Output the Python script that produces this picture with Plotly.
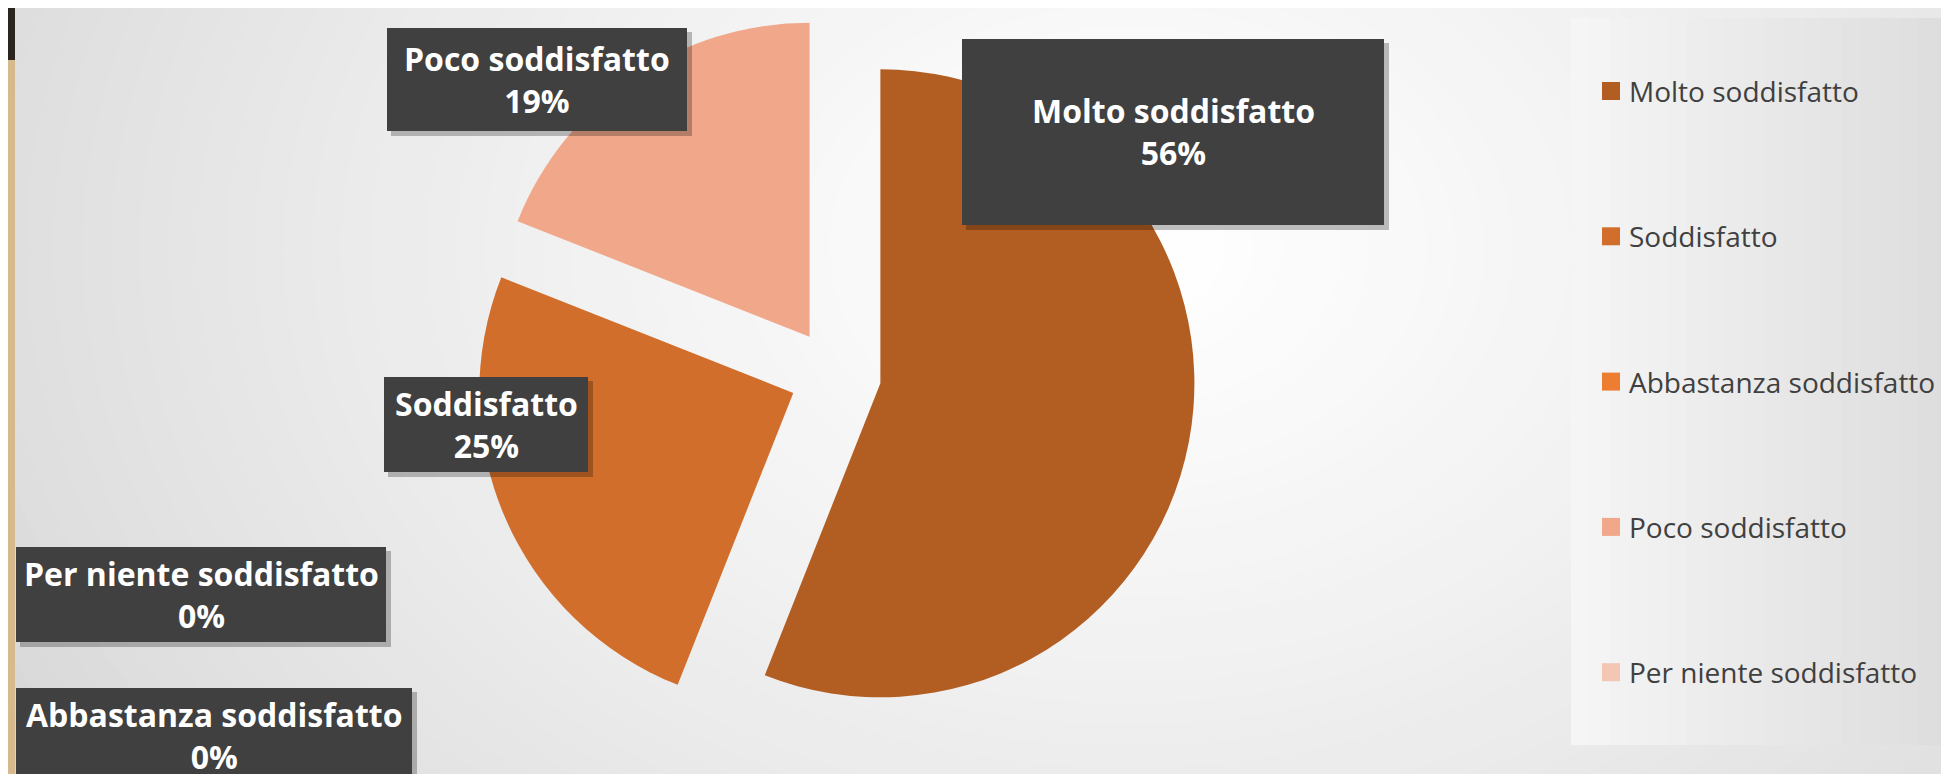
import plotly.graph_objects as go

# %% Data

labels = ["Molto soddisfatto", "Soddisfatto", "Abbastanza soddisfatto",
          "Poco soddisfatto", "Per niente soddisfatto"]
values = [56, 25, 0, 19, 0]
colors = ["#B25D22", "#D26E2B", "#ED7D31", "#F0A78A", "#F4C6B4"]

# %% Layout helpers

W, H = 1949, 774


def fx(x):
    return x / W


def fy(y):
    return 1 - y / H


# label boxes were dragged by hand in the original: left, top, right, bottom (px)
label_boxes = {
    "Molto soddisfatto": (954, 31, 1376, 217),
    "Soddisfatto": (376, 369, 580, 464),
    "Abbastanza soddisfatto": (8, 680, 404, 775),
    "Poco soddisfatto": (379, 20, 679, 123),
    "Per niente soddisfatto": (8, 539, 378, 634),
}

shapes = []
annotations = []

# background: soft radial gradient, grey at the edges, white towards the top right
n_steps = 48
cx, cy = 1120, 240
for k in range(n_steps):
    t = k / (n_steps - 1)
    rx = 1350 * (1 - t) + 40
    ry = 1000 * (1 - t) + 30
    g = int(round(208 + (255 - 208) * t ** 0.7))
    shapes.append(dict(type="circle", xref="paper", yref="paper", layer="below",
                       x0=fx(cx - rx), x1=fx(cx + rx), y0=fy(cy + ry), y1=fy(cy - ry),
                       fillcolor=f"rgb({g},{g},{g})", line=dict(width=0)))

# legend panel
n_band = 20
for k in range(n_band):
    x0 = 1563 + k * (W - 1563) / n_band
    x1 = 1563 + (k + 1) * (W - 1563) / n_band
    g = int(round(245 - 24 * k / (n_band - 1)))
    shapes.append(dict(type="rect", xref="paper", yref="paper", layer="below",
                       x0=fx(x0), x1=fx(x1) + 0.0005, y0=fy(737), y1=fy(10),
                       fillcolor=f"rgb({g},{g},{g})", line=dict(width=0)))

# thin photo strip on the left edge
shapes.append(dict(type="rect", xref="paper", yref="paper", layer="below",
                   x0=0, x1=fx(7), y0=0, y1=1, fillcolor="#D6B98C", line=dict(width=0)))
shapes.append(dict(type="rect", xref="paper", yref="paper", layer="below",
                   x0=0, x1=fx(7), y0=fy(52), y1=1, fillcolor="#2B2520", line=dict(width=0)))

# %% Data label boxes

for lab, val in zip(labels, values):
    l, t, r, b = label_boxes[lab]
    shapes.append(dict(type="rect", xref="paper", yref="paper", layer="above",
                       x0=fx(l + 4), x1=fx(r + 5), y0=fy(b + 5), y1=fy(t + 4),
                       fillcolor="rgba(0,0,0,0.25)", line=dict(width=0)))
    shapes.append(dict(type="rect", xref="paper", yref="paper", layer="above",
                       x0=fx(l), x1=fx(r), y0=fy(b), y1=fy(t),
                       fillcolor="#404040", line=dict(width=0)))
    annotations.append(dict(xref="paper", yref="paper",
                            x=fx((l + r) / 2), y=fy((t + b) / 2),
                            xanchor="center", yanchor="middle", showarrow=False,
                            text=f"<b>{lab}<br>{val}%</b>", align="center",
                            font=dict(family="Open Sans", size=32, color="white")))

# %% Legend (drawn by hand to get the large square keys)

leg_top, leg_step = 83, 145.3
for i, (lab, col) in enumerate(zip(labels, colors)):
    yc = leg_top + i * leg_step
    shapes.append(dict(type="rect", xref="paper", yref="paper", layer="above",
                       x0=fx(1594), x1=fx(1612), y0=fy(yc + 9), y1=fy(yc - 9),
                       fillcolor=col, line=dict(width=0)))
    annotations.append(dict(xref="paper", yref="paper", x=fx(1619), y=fy(yc),
                            xanchor="left", yanchor="middle", showarrow=False,
                            text=lab, font=dict(family="Open Sans", size=28, color="#404040")))

# %% Figure

fig = go.Figure(go.Pie(
    labels=labels, values=values, sort=False, direction="clockwise", rotation=0,
    pull=[0.146] * len(values),
    marker=dict(colors=colors, line=dict(width=0)),
    textinfo="none", hoverinfo="label+percent", showlegend=False,
    domain=dict(x=[0.2245, 0.6245], y=[0.0613, 0.9912]),
))

fig.update_layout(
    width=W, height=H, autosize=False,
    margin=dict(l=0, r=0, t=0, b=0),
    paper_bgcolor="#D0D0D0", plot_bgcolor="#D0D0D0",
    shapes=shapes, annotations=annotations,
    font=dict(family="Open Sans"),
)

fig.write_html("out.html")
